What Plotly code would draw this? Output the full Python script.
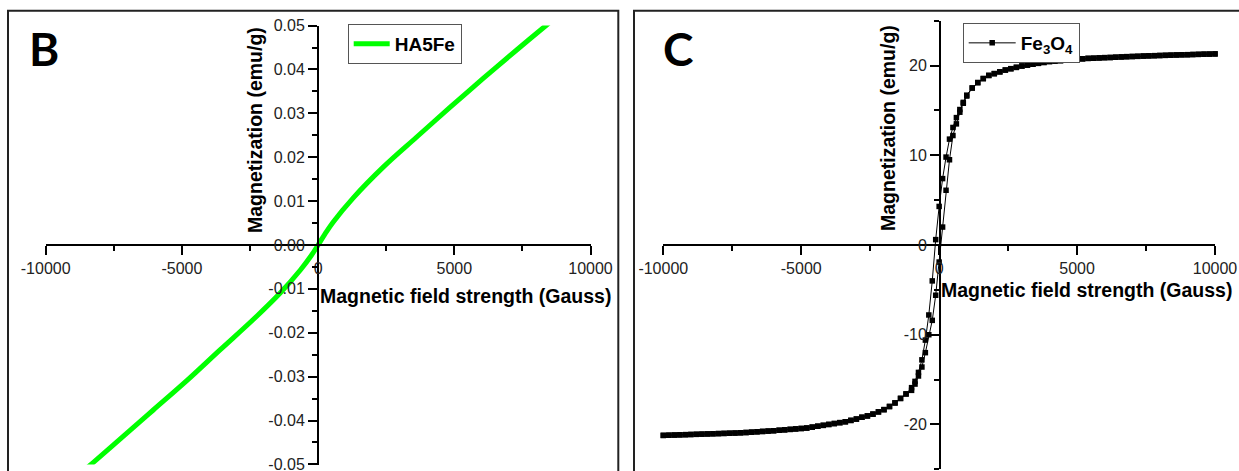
import plotly.graph_objects as go

W, H = 1239, 471

# ---------------- Panel B data (HA5Fe) ----------------
H_B = [-10000, -8300, -7250, -6050, -4800, -3600, -2400, -1400, -650, -250, 0,
       250, 550, 1300, 2400, 3600, 4850, 6050, 7300, 8400, 10000]
M_B = [-0.0588, -0.0498, -0.0441, -0.0376, -0.0308, -0.0239, -0.0171, -0.0110, -0.0057, -0.0024, 0.0,
       0.0025, 0.0052, 0.0108, 0.0178, 0.0245, 0.0314, 0.0379, 0.0445, 0.0502, 0.0585]

# ---------------- Panel C data (Fe3O4) ----------------
H_POS_HIGH = [1200, 1400, 1600, 1800, 2000, 2200, 2400, 2600, 2800, 3000,
              3200, 3400, 3600, 3800, 4000, 4200, 4400, 4600, 4800, 5000,
              5200, 5400, 5600, 5800, 6000, 6200, 6400, 6600, 6800, 7000,
              7200, 7400, 7600, 7800, 8000, 8200, 8400, 8600, 8800, 9000,
              9200, 9400, 9600, 9800, 10000]
M_POS_HIGH = [17.5, 18.1, 18.55, 18.9, 19.1, 19.3, 19.5, 19.65, 19.8, 19.95,
              20.05, 20.15, 20.25, 20.35, 20.45, 20.5, 20.55, 20.6, 20.65, 20.7,
              20.75, 20.8, 20.82, 20.85, 20.88, 20.9, 20.93, 20.96, 20.99, 21.01,
              21.03, 21.06, 21.08, 21.1, 21.12, 21.14, 21.16, 21.18, 21.2, 21.21,
              21.23, 21.25, 21.27, 21.28, 21.3]
H_NEG_HIGH = [-1200, -1400, -1600, -1800, -2000, -2200, -2400, -2600, -2800, -3000,
              -3200, -3400, -3600, -3800, -4000, -4200, -4400, -4600, -4800, -5000,
              -5200, -5400, -5600, -5800, -6000, -6200, -6400, -6600, -6800, -7000,
              -7200, -7400, -7600, -7800, -8000, -8200, -8400, -8600, -8800, -9000,
              -9200, -9400, -9600, -9800, -10000]
M_NEG_HIGH = [-16.6, -17.1, -17.6, -18.0, -18.35, -18.6, -18.85, -19.05, -19.2, -19.4,
              -19.55, -19.7, -19.8, -19.9, -20.0, -20.1, -20.2, -20.3, -20.4, -20.45,
              -20.5, -20.55, -20.6, -20.65, -20.7, -20.74, -20.78, -20.82, -20.86, -20.9,
              -20.93, -20.96, -20.98, -21.0, -21.02, -21.04, -21.06, -21.08, -21.1, -21.12,
              -21.14, -21.16, -21.18, -21.2, -21.22]
H_MID = [-1000, -875, -750, -625, -500, -375, -250, -125, 0,
         125, 250, 375, 500, 625, 750, 875, 1000]
M_DESC_MID = [-15.9, -15.2, -14.2, -12.8, -10.6, -7.8, -4.0, 0.6, 4.3,
              7.4, 9.8, 11.8, 13.1, 14.2, 15.1, 15.9, 16.7]
M_ASC_MID = [-16.2, -15.5, -14.6, -13.6, -12.0, -10.0, -8.4, -5.6, -1.9,
             2.0, 6.1, 9.5, 12.2, 13.5, 14.8, 15.8, 16.6]

# ---------------- Tick labels ----------------
X_TICKS = [-10000, -5000, 0, 5000, 10000]
X_TICKTEXT = ["-10000", "-5000", "0", "5000", "10000"]
YB_TICKS = [-0.05, -0.04, -0.03, -0.02, -0.01, 0.0, 0.01, 0.02, 0.03, 0.04, 0.05]
YB_TICKTEXT = ["-0.05", "-0.04", "-0.03", "-0.02", "-0.01", "0.00",
               "0.01", "0.02", "0.03", "0.04", "0.05"]
YC_TICKS = [-20, -10, 0, 10, 20]
YC_TICKTEXT = ["-20", "-10", "0", "10", "20"]

# descending branch (+H -> -H) then ascending branch (-H -> +H)
hc = (H_POS_HIGH[::-1] + H_MID[::-1] + H_NEG_HIGH
      + H_NEG_HIGH[::-1] + H_MID + H_POS_HIGH)
mc = (M_POS_HIGH[::-1] + M_DESC_MID[::-1] + M_NEG_HIGH
      + M_NEG_HIGH[::-1] + M_ASC_MID + M_POS_HIGH)

def px(x):
    return x / W

def py(y):
    return 1 - y / H

fig = go.Figure()
fig.add_trace(go.Scatter(
    x=H_B, y=M_B, mode="lines", name="HA5Fe",
    line=dict(color="#00FF00", width=5, shape="spline", smoothing=1.0),
    xaxis="x", yaxis="y", legend="legend"))
fig.add_trace(go.Scatter(
    x=hc, y=mc, mode="lines+markers", name="<b>Fe<sub>3</sub>O<sub>4</sub></b>",
    line=dict(color="black", width=1),
    marker=dict(symbol="square", size=5.5, color="black"),
    cliponaxis=False,
    xaxis="x2", yaxis="y2", legend="legend2"))

TICKFONT = dict(family="Liberation Sans, Arial", size=16, color="#222")
common = dict(showline=True, linecolor="black", linewidth=2,
              ticks="outside", ticklen=9, tickwidth=2, tickcolor="black",
              showgrid=False, zeroline=False, tickfont=TICKFONT,
              anchor="free", automargin=False, ticklabeloverflow="allow")
MINOR = dict(ticks="outside", ticklen=5, tickwidth=1.5, tickcolor="black", tickmode="linear", tick0=0)

fig.update_layout(
    width=W, height=H,
    margin=dict(l=0, r=0, t=0, b=0, pad=0, autoexpand=False),
    paper_bgcolor="white", plot_bgcolor="rgba(0,0,0,0)",
    xaxis=dict(common, domain=[px(45.7), px(590.5)], range=[-10000, 10000],
               position=py(245), tickmode="array", tickvals=X_TICKS, ticktext=X_TICKTEXT,
               minor=dict(MINOR, dtick=2500)),
    yaxis=dict(common, domain=[py(464.5), py(25.5)], range=[-0.05002, 0.05002],
               position=px(318), tickmode="array", tickvals=YB_TICKS, ticktext=YB_TICKTEXT,
               minor=dict(MINOR, dtick=0.005)),
    xaxis2=dict(common, domain=[px(663.3), px(1215)], range=[-10000, 10000],
                position=py(245), tickmode="array", tickvals=X_TICKS, ticktext=X_TICKTEXT,
                minor=dict(MINOR, dtick=2500)),
    yaxis2=dict(common, domain=[py(469.3), py(20.7)], range=[-25, 25],
                position=px(940), tickmode="array", tickvals=YC_TICKS, ticktext=YC_TICKTEXT,
                minor=dict(MINOR, dtick=5)),
    legend=dict(x=px(347.7), y=py(24), xanchor="left", yanchor="top", itemwidth=36,
                bgcolor="white", bordercolor="#555", borderwidth=1,
                font=dict(family="Liberation Sans, Arial", size=19, color="black", weight="bold")),
    legend2=dict(x=px(962.7), y=py(23), xanchor="left", yanchor="top", itemwidth=47,
                 bgcolor="white", bordercolor="#555", borderwidth=1,
                 font=dict(family="Liberation Sans, Arial", size=19, color="black", weight="bold")),
    showlegend=True,
)

TITLEFONT = dict(family="Liberation Sans, Arial", size=19.5, color="black", weight="bold")
annotations = [
    dict(text="Magnetization (emu/g)", x=px(255), y=py(130), textangle=-90,
         xanchor="center", yanchor="middle", font=TITLEFONT),
    dict(text="Magnetization (emu/g)", x=px(888), y=py(128), textangle=-90,
         xanchor="center", yanchor="middle", font=TITLEFONT),
    dict(text="Magnetic field strength (Gauss)", x=px(318), y=py(296),
         xanchor="left", yanchor="middle", font=TITLEFONT),
    dict(text="Magnetic field strength (Gauss)", x=px(939), y=py(290),
         xanchor="left", yanchor="middle", font=TITLEFONT),
    dict(text="B", x=px(27), y=py(49), xanchor="left", yanchor="middle",
         font=dict(family="Lato, Open Sans", size=46, color="black", weight="bold")),
    dict(text="C", x=px(661), y=py(49), xanchor="left", yanchor="middle",
         font=dict(family="Lato, Open Sans", size=46, color="black", weight="bold")),
]
for a in annotations:
    a.update(xref="paper", yref="paper", showarrow=False)
fig.update_layout(annotations=annotations)

fig.update_layout(shapes=[
    dict(type="rect", xref="paper", yref="paper", x0=px(8), x1=px(618.3),
         y0=-0.2, y1=py(10.7), line=dict(color="#222", width=2)),
    dict(type="rect", xref="paper", yref="paper", x0=px(634), x1=1.05,
         y0=-0.2, y1=py(10.7), line=dict(color="#222", width=2)),
])

fig.write_html("out.html")
